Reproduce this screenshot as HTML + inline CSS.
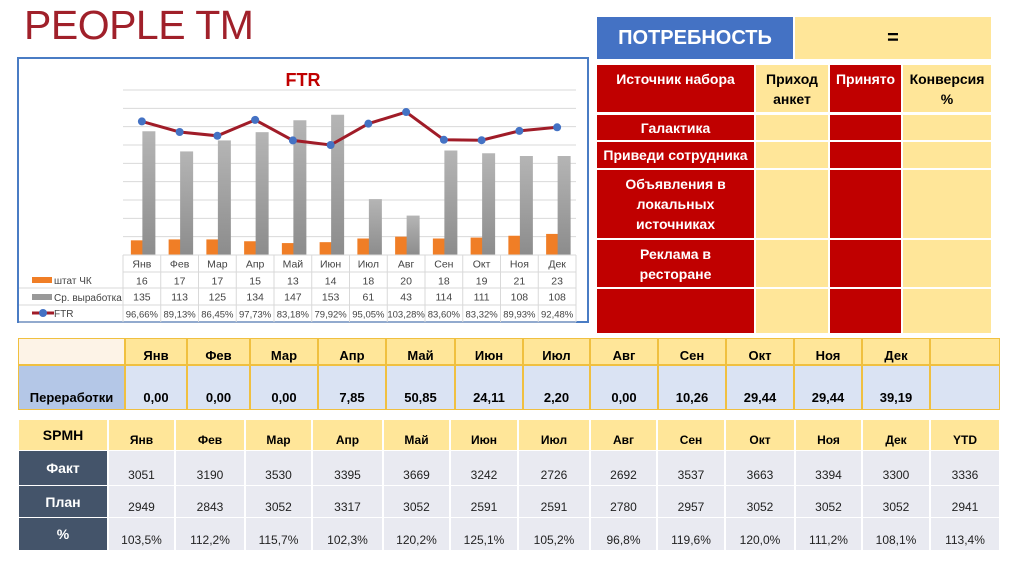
<!DOCTYPE html>
<html><head><meta charset="utf-8"><style>
body{margin:0;width:1024px;height:574px;background:#fff;position:relative;overflow:hidden;font-family:"Liberation Sans",sans-serif}
.a{position:absolute;box-sizing:border-box}
.c{display:flex;align-items:center;justify-content:center;text-align:center}
.rc{background:#c00000;color:#fff;font-weight:bold;font-size:14px;line-height:20px}
.yc{background:#ffe699;color:#000;font-weight:bold;font-size:14px;line-height:20px}
.ov{font-size:13px;font-weight:bold}
.sp{font-size:12px;color:#222}
</style></head><body>
<div class="a" style="left:24px;top:2px;font-size:41px;color:#a0202a;letter-spacing:-0.5px">PEOPLE TM</div>

<div class="a" style="left:17px;top:57px;width:572px;height:266px;border:2px solid #4a7cc4"></div>
<svg class="a" id="chart" style="left:0;top:0" width="1024" height="574"></svg>

<div class="a c" style="left:597px;top:17px;width:196px;height:42px;background:#4472c4;color:#fff;font-weight:bold;font-size:20px">ПОТРЕБНОСТЬ</div>
<div class="a c" style="left:795px;top:17px;width:196px;height:42px;background:#ffe699;font-weight:bold;font-size:20px">=</div>
<div id="rt"></div>

<div id="ot"></div>
<div id="spmh"></div>

<script>
const months=['Янв','Фев','Мар','Апр','Май','Июн','Июл','Авг','Сен','Окт','Ноя','Дек'];
const staff=[16,17,17,15,13,14,18,20,18,19,21,23];
const output=[135,113,125,134,147,153,61,43,114,111,108,108];
const ftr=[96.66,89.13,86.45,97.73,83.18,79.92,95.05,103.28,83.60,83.32,89.93,92.48];
const overtime=['0,00','0,00','0,00','7,85','50,85','24,11','2,20','0,00','10,26','29,44','29,44','39,19'];
const spmhCols=['Янв','Фев','Мар','Апр','Май','Июн','Июл','Авг','Сен','Окт','Ноя','Дек','YTD'];
const fact=[3051,3190,3530,3395,3669,3242,2726,2692,3537,3663,3394,3300,3336];
const plan=[2949,2843,3052,3317,3052,2591,2591,2780,2957,3052,3052,3052,2941];
const pct=['103,5%','112,2%','115,7%','102,3%','120,2%','125,1%','105,2%','96,8%','119,6%','120,0%','111,2%','108,1%','113,4%'];

const NS='http://www.w3.org/2000/svg';
const svg=document.getElementById('chart');
function mk(t,a,p){const e=document.createElementNS(NS,t);for(const k in a)e.setAttribute(k,a[k]);(p||svg).appendChild(e);return e;}
const X0=123,X1=576,BASE=255,TOP=90,MAXV=180;
const cw=(X1-X0)/months.length;
const cx=i=>X0+cw*(i+0.5);
const y=v=>BASE-v/MAXV*(BASE-TOP);
const yf=v=>145-(v-79.92)*1.41;
for(let k=0;k<=9;k++){const g=mk('line',{x1:X0,x2:X1,y1:y(k*20),y2:y(k*20),stroke:'#d9d9d9','stroke-width':1});

}
let t=mk('text',{x:303,y:86,'text-anchor':'middle','font-size':18,'font-weight':'bold',fill:'#c00000'});t.textContent='FTR';


const defs=mk('defs',{});
const gr=mk('linearGradient',{id:'gg',x1:0,x2:0,y1:0,y2:1},defs);
mk('stop',{offset:0,'stop-color':'#b5b5b5'},gr);mk('stop',{offset:1,'stop-color':'#8c8c8c'},gr);
staff.forEach((v,i)=>{const r=mk('rect',{x:cx(i)-11,y:y(v),width:12,height:BASE-y(v),fill:'#f07e26'});

});
output.forEach((v,i)=>{const r=mk('rect',{x:cx(i)+0.5,y:y(v),width:13,height:BASE-y(v),fill:'url(#gg)'});

});
const pl=mk('polyline',{points:ftr.map((v,i)=>cx(i)+','+yf(v)).join(' '),fill:'none',stroke:'#a01c28','stroke-width':3});


ftr.forEach((v,i)=>{const c=mk('circle',{cx:cx(i),cy:yf(v),r:4,fill:'#4472c4'});

});
const rows=[255,272,288,305,322];
mk('line',{x1:X0,x2:X1,y1:BASE,y2:BASE,stroke:'#d9d9d9'});
for(let r=1;r<5;r++)mk('line',{x1:r==1?X0:19,x2:X1,y1:rows[r],y2:rows[r],stroke:'#d9d9d9'});
for(let i=0;i<=12;i++)mk('line',{x1:X0+cw*i,x2:X0+cw*i,y1:BASE,y2:322,stroke:'#d9d9d9'});
const tv=[months,staff,output,ftr.map(v=>v.toFixed(2).replace('.',',')+'%')];
tv.forEach((arr,r)=>arr.forEach((v,i)=>{const e=mk('text',{x:cx(i),y:rows[r]+12.5,'text-anchor':'middle','font-size':r==3?9.5:10.5,fill:'#444'});e.textContent=v;

}));
mk('rect',{x:32,y:277,width:20,height:6,fill:'#f07e26'});
mk('rect',{x:32,y:294,width:20,height:6,fill:'#999'});
mk('line',{x1:32,x2:54,y1:313,y2:313,stroke:'#a01c28','stroke-width':3});
mk('circle',{cx:43,cy:313,r:4,fill:'#4472c4'});
[['штат ЧК',284],['Ср. выработка',301],['FTR',317]].forEach(([s,yy])=>{const e=mk('text',{x:54,y:yy,'font-size':10,fill:'#444'});e.textContent=s;

});

function div(parent,name,inter,style,cls,html){const d=document.createElement('div');d.className='a '+(cls||'');d.style.cssText=style;d.innerHTML=html||'';


parent.appendChild(d);return d;}
const B=document.body;
const cx2=[[597,157],[756,72],[830,71],[903,88]];
const ry=[[65,47],[115,25],[142,26],[170,68],[240,47],[289,44]];
const head=['Источник набора','Приход<br>анкет','Принято','Конверсия<br>%'];
const src=['Галактика','Приведи сотрудника','Объявления в<br>локальных<br>источниках','Реклама в<br>ресторане',''];
ry.forEach(([yy,h],r)=>cx2.forEach(([xx,w],c)=>{const red=c==0||c==2;
const txt=r==0?head[c]:(c==0?src[r-1]:'');
div(B,r==0?'source-header':(c==0?'source-name':'source-cell'),r==0?'false':'true',`left:${xx}px;top:${yy}px;width:${w}px;height:${h}px;justify-content:center;align-items:${r==0?'flex-start':'center'};padding-top:${r==0?4:0}px`,'c '+(red?'rc':'yc'),txt);}));
const ob=[18,125,187,250,318,386,455,523,590,658,726,794,862,930,1000];
for(let i=0;i<ob.length-1;i++){
 div(B,'overtime-header','false',`left:${ob[i]}px;top:338px;width:${ob[i+1]-ob[i]}px;height:27px;background:${i==0?'#fdf3e7':'#ffe699'};border:1px solid #f0c040;padding-top:8px`,'c ov',i>0&&i<13?months[i-1]:'');
 div(B,i==0?'overtime-label':'overtime-value','false',`left:${ob[i]}px;top:365px;width:${ob[i+1]-ob[i]}px;height:45px;background:${i==0?'#b4c7e7':'#dae3f3'};border:1px solid #f0c040;align-items:flex-end;padding-bottom:4px`,'c ov',i==0?'Переработки':(i<13?overtime[i-1]:''));
}
const sb=[18,108,175,245,312,383,450,518,590,657,725,795,862,930,1000];
const sr=[[420,30],[451,34],[486,31],[518,32]];
const labels=['SPMH','Факт','План','%'];
const vals=[spmhCols,fact,plan,pct];
sr.forEach(([yy,h],r)=>{for(let i=0;i<sb.length-1;i++){
 const lab=i==0;
 const bg=r==0?'#ffe699':(lab?'#44546a':'#e9eaf1');
 const col=lab&&r>0?'#fff':(r==0?'#000':'#222');
 const txt=lab?labels[r]:vals[r][i-1];
 div(B,r==0?'spmh-header':(lab?'spmh-row-label':'spmh-value'),'false',`left:${sb[i]+1}px;top:${yy}px;width:${sb[i+1]-sb[i]-2}px;height:${h}px;background:${bg};color:${col};align-items:${lab?'center':'flex-end'};padding-bottom:${lab?0:3}px;font-weight:${r==0||lab?'bold':'normal'};font-size:${lab?14:12}px`,'c sp',txt);
}});
</script>
</body></html>
